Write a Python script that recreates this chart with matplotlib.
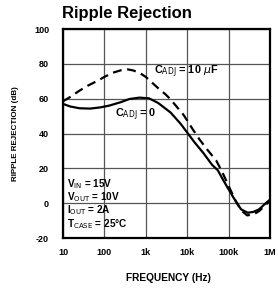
import matplotlib
matplotlib.use("Agg")
import matplotlib.pyplot as plt

plt.rcParams['font.family'] = ['Liberation Sans', 'DejaVu Sans']

# Data
freq_solid = [10, 15, 25, 45, 80, 130, 250, 400, 700, 1200, 2000, 4000, 7000,
              10000, 15000, 25000, 40000, 55000, 75000, 100000, 130000, 200000,
              290000, 400000, 550000, 750000, 1000000]
rej_solid = [57, 55.5, 54.5, 54.3, 55, 56, 58, 59.8, 60.6, 60.2, 57.5, 52, 45.5,
             40.6, 35, 28.6, 22, 18.9, 13.1, 8, 3.4, -3.5,
             -5.5, -5, -3.5, -0.5, 2]

freq_dash = [10, 15, 25, 40, 65, 100, 160, 250, 370, 500, 700, 1000, 1300, 2000,
             3000, 4000, 6000, 8000, 10000, 14000, 20000, 30000, 50000, 70000,
             100000, 150000, 200000, 280000, 400000, 550000, 750000, 1000000]
rej_dash = [58.5, 61, 64.6, 67.5, 70, 72.5, 74.9, 76.3, 76.8, 76.2, 74.9, 72.5, 70, 66,
            62.5, 59.5, 54.5, 51, 47.5, 42, 36.5, 31, 24.6, 18,
            10, 1, -4, -7, -6.5, -4.5, -1.5, 1.5]

x_ticks = [10, 100, 1000, 10000, 100000, 1000000]
x_tick_labels = ["10", "100", "1k", "10k", "100k", "1M"]
y_ticks = [-20, 0, 20, 40, 60, 80, 100]
y_tick_labels = ["-20", "0", "20", "40", "60", "80", "100"]

fig = plt.figure(figsize=(2.78, 2.91), dpi=100)
ax = fig.add_axes([0.2266, 0.1821, 0.7444, 0.7182])

ax.set_xscale('log')
ax.set_xlim(10, 1e6)
ax.set_ylim(-20, 100)
ax.set_xticks(x_ticks)
ax.set_xticklabels(x_tick_labels)
ax.set_yticks(y_ticks)
ax.set_yticklabels(y_tick_labels)
ax.minorticks_off()
ax.tick_params(length=0, labelsize=6.5)
ax.tick_params(axis='x', pad=7)
ax.tick_params(axis='y', pad=10)
for lab in ax.get_xticklabels() + ax.get_yticklabels():
    lab.set_fontweight('bold')
ax.grid(True, color='#555555', linewidth=0.9)
for s in ax.spines.values():
    s.set_linewidth(1.6)

ax.plot(freq_solid, rej_solid, color='black', linewidth=1.6)
ax.plot(freq_dash, rej_dash, color='black', linewidth=1.6, dashes=(4, 2.5))

ax.text(1600, 75.5, r"C$_{\rm ADJ}$ = 10 $\mu$F", fontsize=7.8, fontweight='bold',
        va='center', ha='left')
ax.text(185, 51, r"C$_{\rm ADJ}$ = 0", fontsize=7.8, fontweight='bold',
        va='center', ha='left')

cond = [r"V$_{\rm IN}$ = 15V", r"V$_{\rm OUT}$ = 10V", r"I$_{\rm OUT}$ = 2A",
        r"T$_{\rm CASE}$ = 25°C"]
for i, t in enumerate(cond):
    ax.text(12.5, 11 - i * 7.6, t, fontsize=7.2, fontweight='bold', va='center', ha='left')

fig.text(0.223, 0.952, "Ripple Rejection", fontsize=12, fontweight='bold',
         ha='left', va='center')
fig.text(0.054, 0.54, "RIPPLE REJECTION (dB)", fontsize=5.8, fontweight='bold',
         rotation=90, ha='center', va='center')
fig.text(0.605, 0.045, "FREQUENCY (Hz)", fontsize=7.3, fontweight='bold',
         ha='center', va='center')

fig.savefig("out.png", dpi=100)
